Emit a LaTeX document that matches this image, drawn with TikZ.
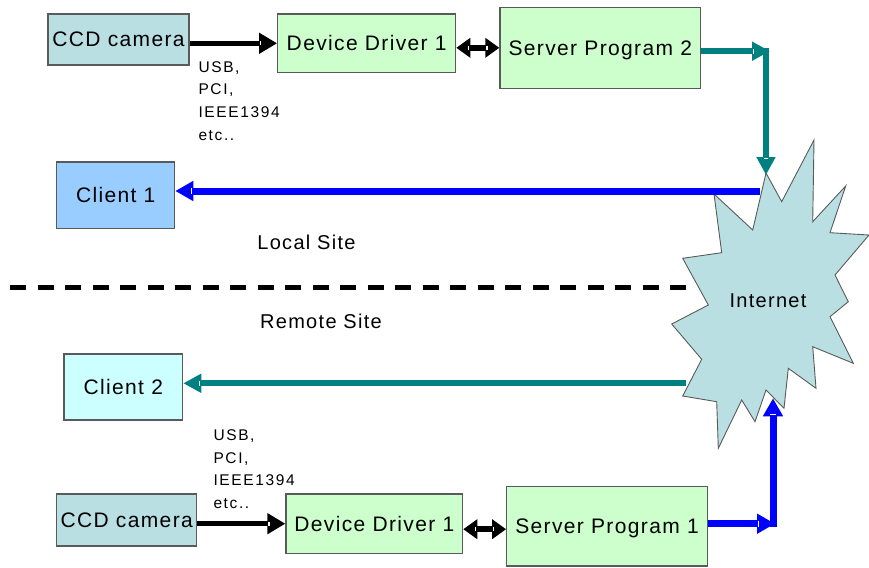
\documentclass[tikz,border=0pt]{standalone}
\usepackage{fontspec}
\setmainfont{Liberation Sans}[LetterSpace=6.5]
\newfontfamily\notefont{Liberation Sans}[LetterSpace=10.5]
\usetikzlibrary{arrows.meta,calc}
\definecolor{camfill}{HTML}{B9DFE3}
\definecolor{progfill}{HTML}{CCFFCC}
\definecolor{clionefill}{HTML}{99CCFF}
\definecolor{clitwofill}{HTML}{CCFFFF}
\definecolor{tealline}{HTML}{008080}
\definecolor{blueline}{HTML}{0000FF}
\definecolor{boxedge}{HTML}{5A5A5A}

% small white mark across the base of an arrow head:
% #1 tip, #2 start of the line, #3 distance from the tip, #4 half length
\newcommand\headnotch[4]{%
  \path ($(#1)!#3!(#2)$) coordinate (hn);
  \draw[white, line width=1.3pt] ($(hn)!#4!90:(#1)$) -- ($(hn)!#4!-90:(#1)$);}

\begin{document}
\begin{tikzpicture}[x=1pt,y=-1pt,
  box/.style={draw=boxedge, line width=1.2pt, inner sep=0pt,
    font=\fontsize{21}{25}\selectfont, text height=15pt, text depth=0pt},
  label/.style={inner sep=0pt, font=\fontsize{20}{24}\selectfont},
  note/.style={inner sep=0pt, anchor=north west, align=left,
    font=\notefont\fontsize{15.5}{22.7}\selectfont},
  blackarrow/.style={draw=black, line width=5.5pt,
    -{Triangle[length=18pt,width=20pt]}},
  blackboth/.style={draw=black, line width=5.5pt,
    {Triangle[length=14pt,width=19pt]}-{Triangle[length=14pt,width=19pt]}},
  tealarrow/.style={draw=tealline, line width=6pt,
    -{Triangle[length=18pt,width=18pt]}},
  bluearrow/.style={draw=blueline, line width=7pt,
    -{Triangle[length=18pt,width=19pt]}}
]
\useasboundingbox (0,0) rectangle (869,567);

% Internet cloud (star burst)
\filldraw[fill=camfill, draw=boxedge, line width=0.9pt]
  (766,173) -- (781.7,201.7) -- (814,140) -- (812.7,221.7) -- (845.7,186)
  -- (830,232.7) -- (869,235) -- (835,275) -- (848.3,301.7) -- (830,316.7)
  -- (853.3,363.3) -- (812.7,346.7) -- (816,388.3) -- (788.3,368.3)
  -- (784,408.3) -- (766,390) -- (755,421.7) -- (741.7,400) -- (718.3,448.3)
  -- (716.7,401.7) -- (682.7,396) -- (701.7,359.3) -- (671.7,324)
  -- (708.3,305) -- (682.7,258.3) -- (721.7,252.7) -- (714,194)
  -- (752.7,230) -- cycle;
\node[label] (inet) at (768,300.5) {Internet};

% Local site
\node[box, fill=camfill, minimum width=141pt, minimum height=51pt]
  (cam1) at (118.5,39.5) {CCD camera};
\node[box, fill=progfill, minimum width=178pt, minimum height=58.7pt]
  (drv1) at (366.7,43.3) {Device Driver 1};
\node[box, fill=progfill, minimum width=200.7pt, minimum height=81pt]
  (srv2) at (600.3,47.8) {Server Program 2};
\node[box, fill=clionefill, minimum width=118pt, minimum height=66.3pt]
  (cli1) at (115.7,195.2) {Client 1};
\node[note] (bus1) at (198.3,61.2) {USB,\\PCI,\\IEEE1394\\etc..};
\node[label] (local) at (306.5,242) {Local Site};

% Site boundary
\coordinate (sepL) at (10,287);
\coordinate (sepR) at (686,287);
\draw[line width=5pt, dash pattern=on 16pt off 11.5pt] (sepL) -- (sepR);

% Remote site
\node[label] (remote) at (321,321) {Remote Site};
\node[box, fill=clitwofill, minimum width=118.7pt, minimum height=66pt]
  (cli2) at (123.3,387) {Client 2};
\node[box, fill=camfill, minimum width=140pt, minimum height=52pt]
  (cam2) at (126.7,520) {CCD camera};
\node[box, fill=progfill, minimum width=176.7pt, minimum height=59.3pt]
  (drv2) at (374.3,523.7) {Device Driver 1};
\node[box, fill=progfill, minimum width=200.6pt, minimum height=79.3pt]
  (srv1) at (607,526.3) {Server Program 1};
\node[note] (bus2) at (213.3,429.5) {USB,\\PCI,\\IEEE1394\\etc..};

% Connection points
\coordinate (a1s) at (cam1.east |- drv1.west);
\coordinate (a1e) at (drv1.west);
\coordinate (a2s) at (drv1.east |- srv2.west);
\coordinate (a2e) at (srv2.west);
\coordinate (bend2) at (770,51.2);
\coordinate (a3s) at (srv2.east |- bend2);
\coordinate (corner2) at (766,48.2);
\coordinate (tipTop) at (766,175);
\coordinate (inetW1) at (759.5,191);
\coordinate (c1e) at (inetW1 -| cli1.east);
\coordinate (inetW2) at (685.5,383.3);
\coordinate (c2e) at (inetW2 -| cli2.east);
\coordinate (a4s) at (cam2.east |- drv2.west);
\coordinate (a4e) at (drv2.west);
\coordinate (a5s) at ([yshift=-5.5pt]drv2.east);
\coordinate (a5e) at (a5s -| srv1.west);
\coordinate (bend1) at (775,523.7);
\coordinate (a6s) at (srv1.east |- bend1);
\coordinate (corner1) at (773,527.2);
\coordinate (tipBot) at (773,398.3);

% Local connectors
\draw[blackarrow] (a1s) -- (a1e);
\draw[blackboth] (a2s) -- (a2e);
\draw[tealarrow] (a3s) -- (bend2);
\draw[tealarrow] (corner2) -- (tipTop);
\draw[bluearrow] (inetW1) -- (c1e);

% Remote connectors
\draw[tealarrow] (inetW2) -- (c2e);
\draw[blackarrow] (a4s) -- (a4e);
\draw[blackboth] (a5s) -- (a5e);
\draw[bluearrow] (a6s) -- (bend1);
\draw[bluearrow] (corner1) -- (tipBot);

% white marks at the head bases
\headnotch{a1e}{a1s}{16.3pt}{2.2pt}
\headnotch{a2e}{a2s}{12.5pt}{2.2pt}
\headnotch{a2s}{a2e}{12.5pt}{2.2pt}
\headnotch{bend2}{a3s}{16.3pt}{2.4pt}
\headnotch{tipTop}{corner2}{16.3pt}{2.4pt}
\headnotch{c1e}{inetW1}{16.3pt}{2.8pt}
\headnotch{c2e}{inetW2}{16.3pt}{2.4pt}
\headnotch{a4e}{a4s}{16.3pt}{2.2pt}
\headnotch{a5e}{a5s}{12.5pt}{2.2pt}
\headnotch{a5s}{a5e}{12.5pt}{2.2pt}
\headnotch{bend1}{a6s}{16.3pt}{2.8pt}
\headnotch{tipBot}{corner1}{16.3pt}{2.8pt}
\end{tikzpicture}
\end{document}
